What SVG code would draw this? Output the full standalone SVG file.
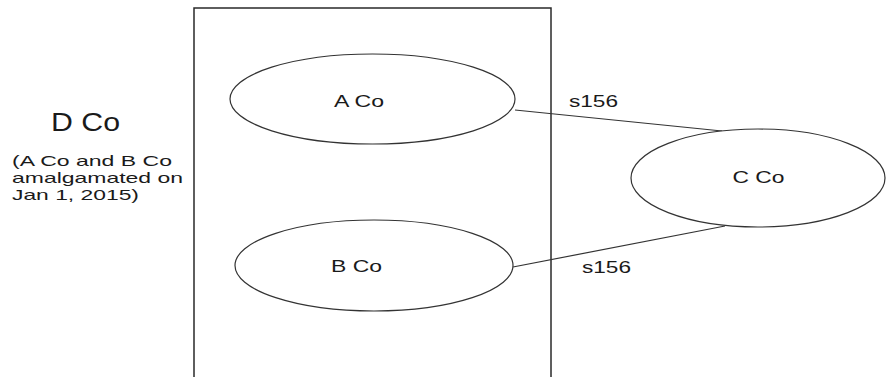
<svg xmlns="http://www.w3.org/2000/svg" width="887" height="377" viewBox="0 0 887 377">
  <style>
    .box { fill: none; stroke: #2a2a2a; stroke-width: 1.5; }
    .node { fill: #ffffff; stroke: #333333; stroke-width: 1.2; }
    .edge { fill: none; stroke: #333333; stroke-width: 1.2; }
    text { font-family: "Liberation Sans", Arial, sans-serif; fill: #1a1a1a; }
    .lbl { font-size: 16px; }
    .note { font-size: 15px; }
    .title { font-size: 26px; }
  </style>
  <rect x="0" y="0" width="887" height="377" fill="#ffffff"/>

  <!-- D Co: the amalgamated company boundary -->
  <g id="d-co">
    <rect class="box" x="194" y="8" width="357" height="380"/>
    <text class="title" x="51" y="131" textLength="69" lengthAdjust="spacingAndGlyphs">D Co</text>
    <text class="note" x="12" y="166" textLength="160" lengthAdjust="spacingAndGlyphs">(A Co and B Co</text>
    <text class="note" x="12" y="183" textLength="171" lengthAdjust="spacingAndGlyphs">amalgamated on</text>
    <text class="note" x="12" y="200" textLength="127" lengthAdjust="spacingAndGlyphs">Jan 1, 2015)</text>
  </g>

  <!-- connectors -->
  <g id="connectors">
    <line class="edge" x1="515" y1="110" x2="722" y2="131"/>
    <line class="edge" x1="513" y1="267" x2="725" y2="226"/>
    <text class="lbl" x="569" y="107" textLength="49" lengthAdjust="spacingAndGlyphs">s156</text>
    <text class="lbl" x="582" y="273" textLength="49" lengthAdjust="spacingAndGlyphs">s156</text>
  </g>

  <g id="a-co">
    <ellipse class="node" cx="372.5" cy="99" rx="142.5" ry="45"/>
    <text class="lbl" x="334" y="107" textLength="50" lengthAdjust="spacingAndGlyphs">A Co</text>
  </g>

  <g id="b-co">
    <ellipse class="node" cx="374" cy="265.5" rx="139" ry="45.5"/>
    <text class="lbl" x="331" y="272" textLength="51" lengthAdjust="spacingAndGlyphs">B Co</text>
  </g>

  <g id="c-co">
    <ellipse class="node" cx="758" cy="178" rx="127" ry="49"/>
    <text class="lbl" x="732.5" y="183" textLength="52" lengthAdjust="spacingAndGlyphs">C Co</text>
  </g>
</svg>
